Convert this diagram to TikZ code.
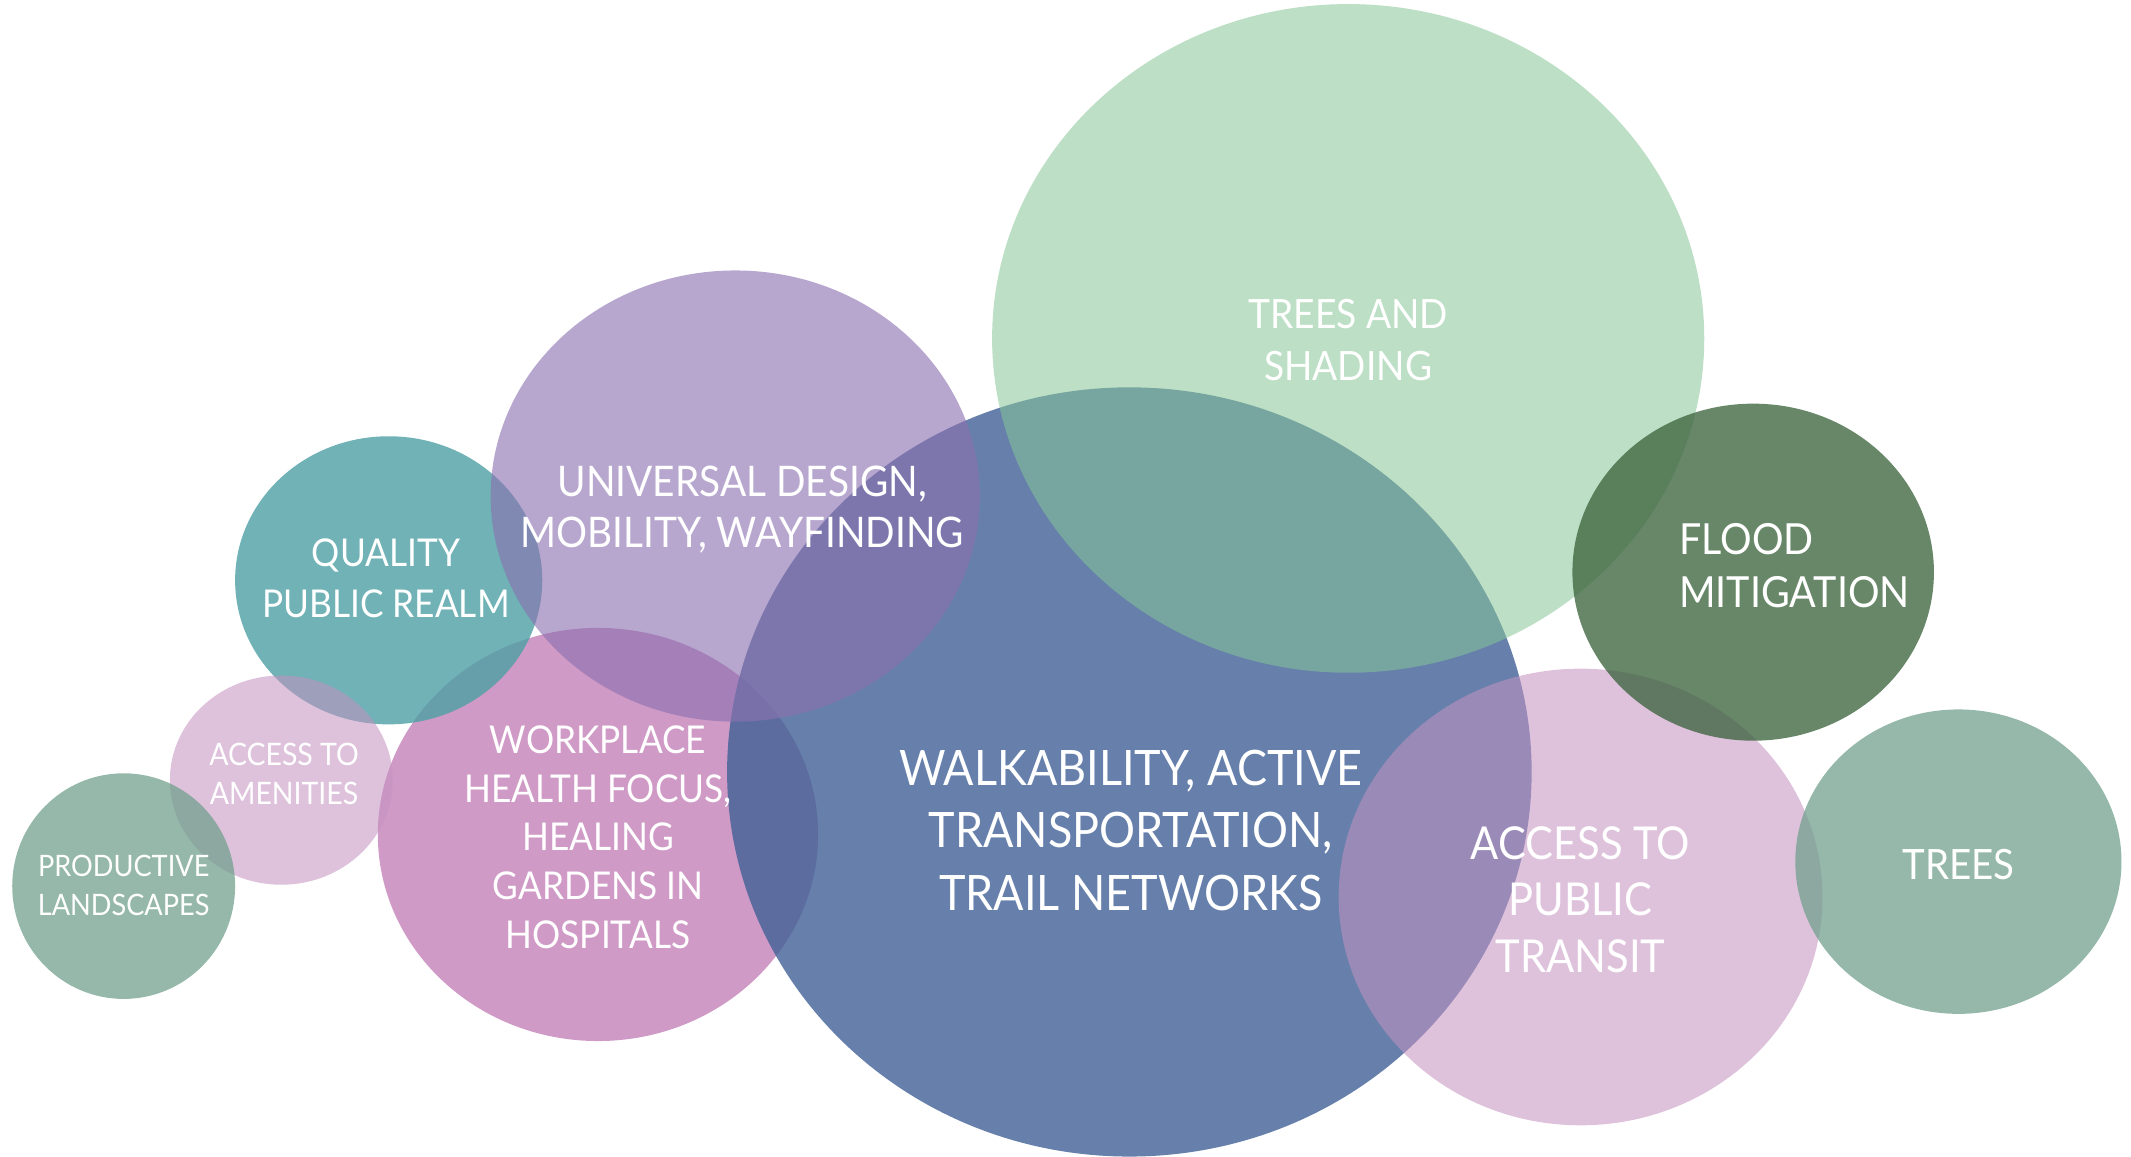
\documentclass[tikz,border=0pt]{standalone}
\usepackage{fontspec}
\setmainfont{Lato}[FakeStretch=0.92]
\usepackage{tikz}

\definecolor{workpink}{RGB}{208,154,198}
\definecolor{realmteal}{RGB}{76,159,164}
\definecolor{softpink}{RGB}{196,146,193}
\definecolor{sagegreen}{RGB}{113,160,141}
\definecolor{walkblue}{RGB}{66,98,151}
\definecolor{designlilac}{RGB}{139,113,176}
\definecolor{shadegreen}{RGB}{133,197,150}
\definecolor{floodgreen}{RGB}{59,99,60}

\tikzset{
  workfill/.style={fill=workpink},
  realmfill/.style={fill=realmteal, fill opacity=.8},
  amenfill/.style={fill=softpink, fill opacity=.56},
  prodfill/.style={fill=sagegreen, fill opacity=.75},
  walkfill/.style={fill=walkblue, fill opacity=.81},
  designfill/.style={fill=designlilac, fill opacity=.62},
  shadefill/.style={fill=shadegreen, fill opacity=.55},
  transfill/.style={fill=softpink, fill opacity=.56},
  floodfill/.style={fill=floodgreen, fill opacity=.77},
  treefill/.style={fill=sagegreen, fill opacity=.75},
  lbl/.style={text=white, align=center, inner sep=0pt}
}

\begin{document}
\begin{tikzpicture}[x=0.01359cm, y=-0.01359cm]
\useasboundingbox (0,0) rectangle (1568,851);
% bubbles, back to front
\foreach \sty/\cx/\cy/\rx/\ry in {workfill/440/614/162/152, realmfill/286/427/113/106,
	amenfill/207/574/82/77, prodfill/91/652/82/83, walkfill/831/568/296/283,
	designfill/541/365/180/166, shadefill/992/249/262/246, transfill/1163/660/178/168,
	floodfill/1290/421/133/124, treefill/1441/634/120/112}
	\fill[\sty] (\cx,\cy) ellipse [x radius=\rx, y radius=\ry];
% labels
\node[lbl, font=\fontsize{11.5}{14.7}\selectfont] (shading) at (992,250) {TREES AND\\SHADING};
\node[lbl, font=\fontsize{13.9}{17.8}\selectfont] (walk) at (832,611) {WALKABILITY, ACTIVE\\TRANSPORTATION,\\TRAIL NETWORKS};
\node[lbl, font=\fontsize{12}{14.7}\selectfont] (design) at (546,375) {UNIVERSAL DESIGN,\\MOBILITY, WAYFINDING};
\node[lbl, font=\fontsize{10.9}{14.3}\selectfont] (realm) at (284,425.5) {QUALITY\\PUBLIC REALM};
\node[lbl, font=\fontsize{10.9}{13.9}\selectfont] (work) at (440,616) {WORKPLACE\\HEALTH FOCUS,\\HEALING\\GARDENS IN\\HOSPITALS};
\node[lbl, font=\fontsize{8.8}{11.2}\selectfont] (amen) at (209,569.5) {ACCESS TO\\AMENITIES};
\node[lbl, font=\fontsize{8.4}{11.2}\selectfont] (prod) at (91,651.5) {PRODUCTIVE\\LANDSCAPES};
\node[lbl, font=\fontsize{12.9}{16.2}\selectfont] (transit) at (1163,662) {ACCESS TO\\PUBLIC\\TRANSIT};
\node[lbl, align=left, anchor=west, font=\fontsize{12.2}{15.1}\selectfont] (flood) at (1235,416.5) {FLOOD\\MITIGATION};
\node[lbl, font=\fontsize{11.9}{15}\selectfont] (trees) at (1441,636) {TREES};
\end{tikzpicture}
\end{document}
